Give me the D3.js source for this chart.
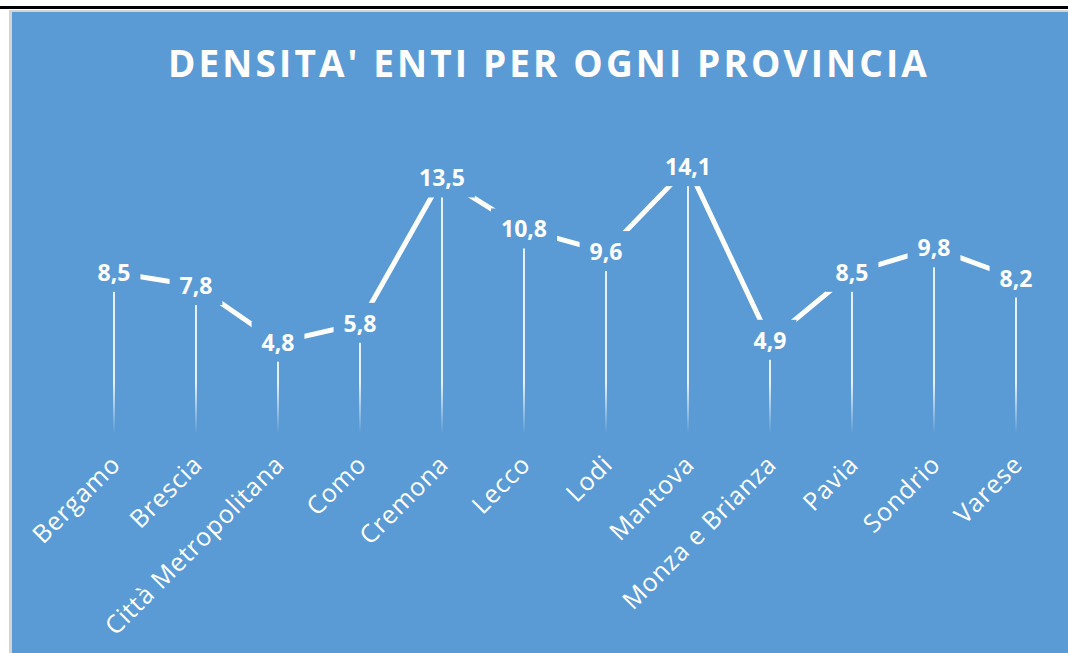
<html lang="it">
<head>
<meta charset="UTF-8">
<title>Densita enti</title>
<script src="https://d3js.org/d3.v7.min.js"></script>
<style>
  body { margin: 0; background: #fff; }
  svg { display: block; }
</style>
</head>
<body>
<svg id="chart" width="1068" height="653"></svg>
<script>
// data
const province = ["Bergamo", "Brescia", "Città Metropolitana", "Como", "Cremona", "Lecco",
                  "Lodi", "Mantova", "Monza e Brianza", "Pavia", "Sondrio", "Varese"];
const densita = [8.5, 7.8, 4.8, 5.8, 13.5, 10.8, 9.6, 14.1, 4.9, 8.5, 9.8, 8.2];
const titolo = "DENSITA' ENTI PER OGNI PROVINCIA";

const bg = "#5b9bd5";
const font = "'Open Sans', 'DejaVu Sans', sans-serif";
const svg = d3.select("#chart");

// frame: black rule on top, grey edge, blue chart area
svg.append("rect").attr("x", 0).attr("y", 6).attr("width", 1068).attr("height", 3).attr("fill", "#000");
svg.append("rect").attr("x", 9).attr("y", 10).attr("width", 1059).attr("height", 643).attr("fill", "#d4d4d4");
svg.append("rect").attr("x", 12).attr("y", 12).attr("width", 1056).attr("height", 641).attr("fill", bg);

const x = d3.scaleBand().domain(province).range([73, 1057]).padding(0);
const y = d3.scaleLinear().domain([0, 16]).range([433, 131]);
const cx = d => x(d) + x.bandwidth() / 2;

const data = province.map((p, i) => ({ p: p, v: densita[i] }));

// gradient for the drop lines (fade out at the bottom)
const defs = svg.append("defs");
const grad = defs.append("linearGradient").attr("id", "fade")
  .attr("gradientUnits", "userSpaceOnUse")
  .attr("x1", 0).attr("x2", 0).attr("y1", y(0) - 50).attr("y2", y(0));
grad.append("stop").attr("offset", "0%").attr("stop-color", "#fff").attr("stop-opacity", 0.85);
grad.append("stop").attr("offset", "100%").attr("stop-color", "#fff").attr("stop-opacity", 0);

// title
const title = svg.append("text")
  .attr("x", 549).attr("y", 77)
  .attr("text-anchor", "middle")
  .attr("fill", "#fff")
  .style("font-family", font)
  .style("font-weight", "bold")
  .style("font-size", "37px")
  .text(titolo);
// stretch letter spacing so title spans ~762px
const len = title.node().getComputedTextLength();
title.style("letter-spacing", ((762 - len) / titolo.length) + "px");

// drop lines
svg.append("g").selectAll("line").data(data).join("line")
  .attr("x1", d => cx(d.p)).attr("x2", d => cx(d.p))
  .attr("y1", d => y(d.v)).attr("y2", y(0))
  .attr("stroke", "url(#fade)")
  .attr("stroke-width", 2);

// the line
const line = d3.line().x(d => cx(d.p)).y(d => y(d.v));
svg.append("path").datum(data)
  .attr("d", line)
  .attr("fill", "none")
  .attr("stroke", "#fff")
  .attr("stroke-width", 5)
  .attr("stroke-linejoin", "round");

// data labels, with a blue box that hides the line behind them
const lab = svg.append("g").selectAll("g").data(data).join("g")
  .attr("transform", d => `translate(${cx(d.p)},${y(d.v)})`);
lab.append("rect").attr("class", "box").attr("fill", bg);
lab.append("text")
  .attr("text-anchor", "middle")
  .attr("dy", "0.36em")
  .attr("fill", "#fff")
  .style("font-family", font)
  .style("font-weight", "bold")
  .style("font-size", "23px")
  .text(d => String(d.v).replace(".", ","));
lab.each(function () {
  const b = d3.select(this).select("text").node().getBBox();
  d3.select(this).select("rect")
    .attr("x", b.x - 10).attr("y", b.y - 4)
    .attr("width", b.width + 20).attr("height", b.height + 8);
});

// category labels, rotated
svg.append("g").selectAll("text").data(province).join("text")
  .attr("transform", d => `translate(${cx(d) + 8},${466}) rotate(-45)`)
  .attr("text-anchor", "end")
  .attr("fill", "#fff")
  .style("font-family", font)
  .style("font-size", "25px")
  .style("letter-spacing", "0.8px")
  .text(d => d);
</script>
</body>
</html>
